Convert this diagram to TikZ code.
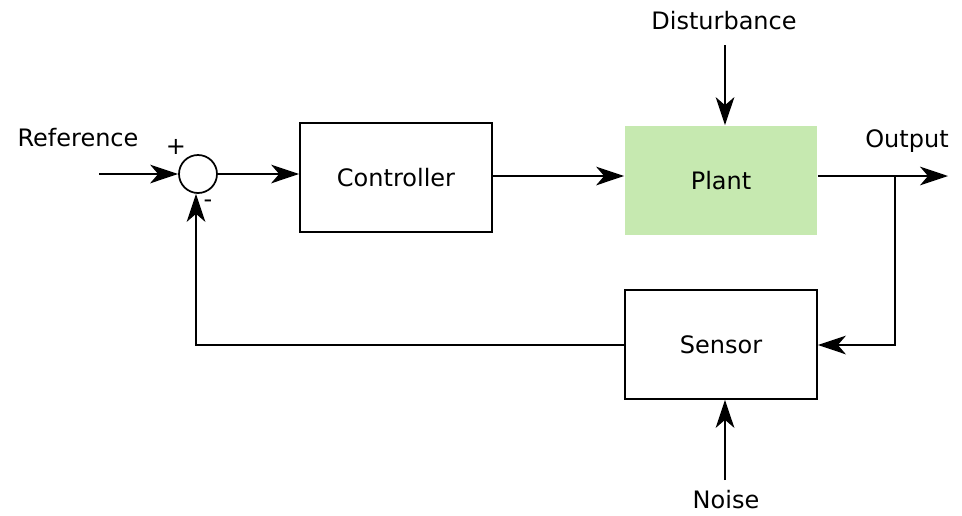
\documentclass[tikz,border=0pt]{standalone}
\usepackage{fontspec}
\setmainfont{DejaVu Sans}
\usetikzlibrary{arrows.meta}
\definecolor{plantgreen}{HTML}{C6E9B0}
\tikzset{
  lbl/.style={font=\fontsize{18pt}{21pt}\selectfont},
  blockbox/.style={lbl,draw,line width=1.3pt,minimum width=192*0.75pt,minimum height=109*0.75pt,inner sep=0pt},
  conn/.style={line width=1.4pt,-{Stealth[length=21pt,width=14pt,inset=6pt]}}
}
\begin{document}
\begin{tikzpicture}[x=0.75pt,y=-0.75pt]
\useasboundingbox (0,0) rectangle (962,515);
\node[draw,circle,line width=1.3pt,minimum size=38*0.75pt,inner sep=0pt] (sum) at (198,174) {};
\node[blockbox] (ctrl) at (396,177.5) {Controller};
\node[blockbox,draw=none,fill=plantgreen] (plant) at (721,180.5) {Plant};
\node[blockbox] (sensor) at (721,344.5) {Sensor};
\node[lbl] (ref) at (78,138) {Reference};
\node[lbl] (plus) at (176,147) {+};
\node[lbl] (minus) at (208,204) {-};
\node[lbl] (out) at (907,141) {Output};
\node[lbl] (dist) at (724,21) {Disturbance};
\node[lbl] (noise) at (726,500) {Noise};
\coordinate (refin) at (99,174);
\coordinate (outend) at (948,176);
\coordinate (branch) at (895,176);
\coordinate (branchdown) at (895,345);
\coordinate (fbcorner) at (196,345);
\coordinate (distin) at (725,45);
\coordinate (noisein) at (725,480);
\draw[conn] (refin) -- (sum.west);
\draw[conn] (sum.east) -- (ctrl.west|-sum.east);
\draw[conn] (ctrl.east|-0,176) -- (plant.west|-0,176);
\draw[conn] (plant.east|-0,176) -- (outend);
\draw[conn] (branch) -- (branchdown) -- (sensor.east|-branchdown);
\draw[conn] (sensor.west|-fbcorner) -- (fbcorner) -- (sum.south-|fbcorner);
\draw[conn] (distin) -- (plant.north-|distin);
\draw[conn] (noisein) -- (sensor.south-|noisein);
\end{tikzpicture}
\end{document}
